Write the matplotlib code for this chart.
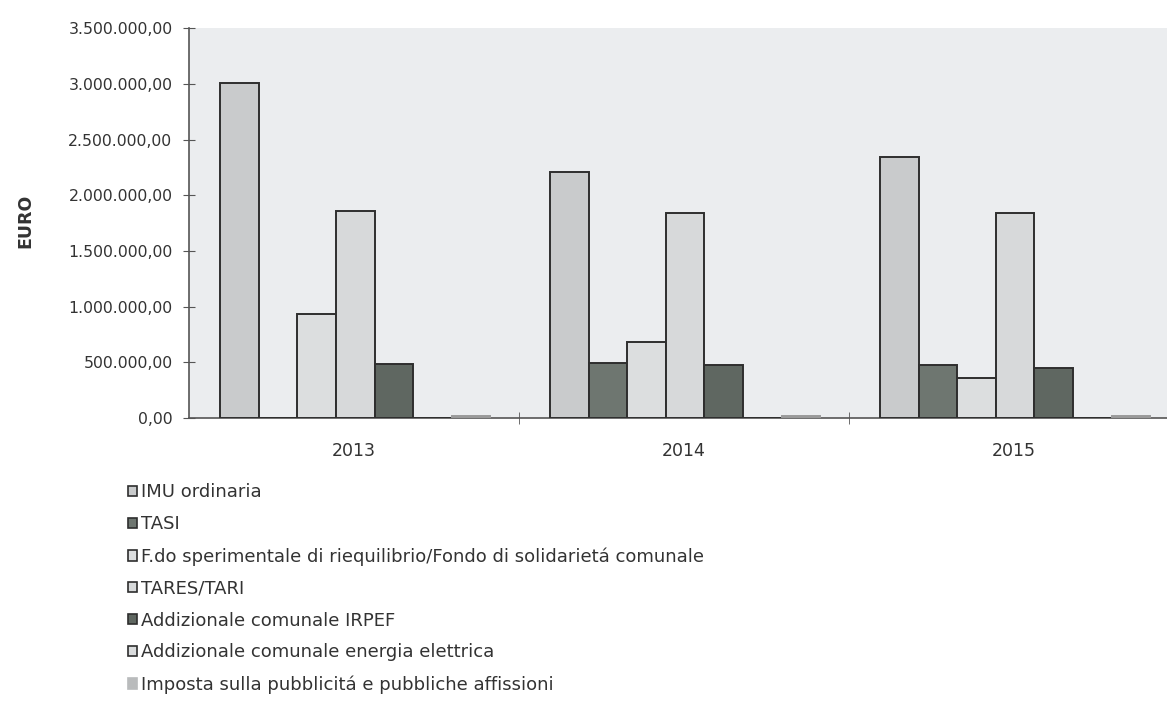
import numpy as np
import matplotlib.pyplot as plt
from matplotlib.patches import Patch
from matplotlib.ticker import FuncFormatter

plt.rcParams['font.family'] = ['DejaVu Sans']

anni = ['2013', '2014', '2015']
voci = ['IMU ordinaria',
        'TASI',
        'F.do sperimentale di riequilibrio/Fondo di solidarietá comunale',
        'TARES/TARI',
        'Addizionale comunale IRPEF',
        'Addizionale comunale energia elettrica',
        'Imposta sulla pubblicitá e pubbliche affissioni']

imu = [3010000, 2205000, 2348000]
tasi = [0, 498000, 477000]
fondo = [933000, 684000, 363000]
tari = [1856000, 1838000, 1844000]
irpef = [483000, 477000, 453000]
energia = [0, 0, 0]
pubblicita = [22000, 18000, 16000]

serie = [imu, tasi, fondo, tari, irpef, energia, pubblicita]
colori = ['#c9cbcc', '#6e7670', '#dcdedf', '#d7d9da', '#5f6761', '#dadcdd', '#b9bbbc']
bordi = ['#2e2e2e'] * 6 + ['#9a9a9a']

fig = plt.figure(figsize=(11.67, 7.06), dpi=100)
fig.patch.set_facecolor('white')
ax = fig.add_axes([0.1620, 0.408, 0.848, 0.552])
ax.set_facecolor('#ebedef')

x = np.arange(len(anni))
w = 0.117
for i, vals in enumerate(serie):
    ax.bar(x + (i - 3) * w + 0.004, vals, width=w, color=colori[i],
           edgecolor=bordi[i], linewidth=1.4, label=voci[i], zorder=3)

ax.set_xlim(-0.5, 2.5)
ax.set_ylim(0, 3500000)
ax.set_yticks(np.arange(0, 3500001, 500000))

def euro(v, pos):
    s = f'{v:,.2f}'
    return s.replace(',', 'X').replace('.', ',').replace('X', '.')

ax.yaxis.set_major_formatter(FuncFormatter(euro))
ax.set_xticks(x)
ax.set_xticklabels(anni)
ax.set_xticks([0.5, 1.5], minor=True)
ax.tick_params(axis='x', which='major', length=0, pad=17, labelsize=12.5, labelcolor='#333333')
ax.tick_params(axis='x', which='minor', length=8, direction='inout', color='#555555')
ax.tick_params(axis='y', length=8, direction='inout', color='#555555', pad=8,
               labelsize=11.3, labelcolor='#333333')

for s in ['top', 'right']:
    ax.spines[s].set_visible(False)
for s in ['left', 'bottom']:
    ax.spines[s].set_color('#555555')
    ax.spines[s].set_linewidth(1.2)

fig.text(0.022, 0.687, 'EURO', rotation=90, fontsize=12.5, fontweight='bold',
         color='#333333', ha='center', va='center')

maniglie = [Patch(facecolor=colori[i], edgecolor=bordi[i] if i < 6 else colori[i],
                  linewidth=1.2) for i in range(len(voci))]
fig.legend(maniglie, voci, loc='upper left', bbox_to_anchor=(0.102, 0.328),
           frameon=False, fontsize=13, labelcolor='#333333',
           handlelength=0.5, handleheight=0.5, handletextpad=0.2,
           labelspacing=0.77, borderpad=0)

fig.savefig('out.png', dpi=100)
